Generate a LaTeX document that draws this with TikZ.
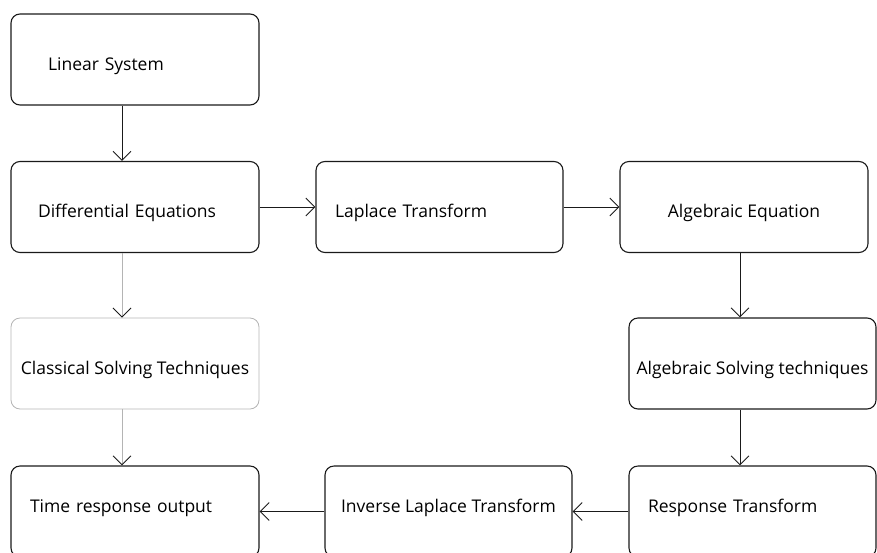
\documentclass[tikz,border=0pt]{standalone}
\usepackage{fontspec}
\setmainfont{Open Sans}
\usetikzlibrary{arrows.meta, positioning}
\definecolor{CLine}{HTML}{1A1A1A}
\definecolor{CGrey}{HTML}{B4B4B4}

\tikzset{
  box/.style={draw=CLine, line width=1.1pt, rounded corners=9pt, minimum width=248pt,
    minimum height=91pt, inner sep=0pt, align=center, font=\fontsize{17.5}{20}\selectfont,
    text height=25pt, text depth=4pt},
  lbox/.style={box, align=left, inner xsep=#1},
  lowtext/.style={text height=9pt, text depth=8pt},
  arr/.style={draw=CLine, line width=0.8pt, -{Straight Barb[length=9pt, width=18pt, line width=0.9pt]}},
  garr/.style={draw=CGrey, line width=0.8pt, -{Straight Barb[length=9pt, width=18pt, line width=0.9pt, CLine]}}
}

\begin{document}
\begin{tikzpicture}[x=1pt, y=-1pt]
    \clip (0,0) rectangle (877,552);

    % Left column
    \node[lbox=37pt, text width=174pt] (lin) at (135,59.5) {Linear System};
    \node[lbox=27pt, text width=194pt] (dif) at (135,207) {Differential Equations};
    \node[box, draw=CGrey, line width=0.8pt] (cls) at (135,363.5) {Classical Solving Techniques};
    \node[lbox=19pt, text width=210pt, lowtext] (tim) at (135,511.5) {Time response output};

    % Middle and right
    \node[lbox=19pt, text width=209pt, minimum width=247pt] (lap) at (439.5,207) {Laplace Transform};
    \node[box] (alg) at (744,207) {Algebraic Equation};
    \node[box, minimum width=247pt] (asv) at (752.5,363.5) {Algebraic Solving techniques};
    \node[lbox=19pt, text width=209pt, minimum width=247pt, lowtext] (rsp) at (752.5,511.5) {Response Transform};
    \node[box, minimum width=247pt, lowtext] (inv) at (448.5,511.5) {Inverse Laplace Transform};

    % Arrow columns
    \coordinate (lx) at (122,0);
    \coordinate (rx) at (740,0);

    % Connectors
    \draw[arr] (lin.south -| lx) -- (dif.north -| lx);
    \draw[arr] (dif) -- (lap);
    \draw[arr] (lap) -- (alg);
    \draw[arr] (alg.south -| rx) -- (asv.north -| rx);
    \draw[arr] (asv.south -| rx) -- (rsp.north -| rx);
    \draw[arr] (rsp) -- (inv);
    \draw[arr] (inv) -- (tim);
    \draw[garr] (dif.south -| lx) -- (cls.north -| lx);
    \draw[garr] (cls.south -| lx) -- (tim.north -| lx);
\end{tikzpicture}
\end{document}
